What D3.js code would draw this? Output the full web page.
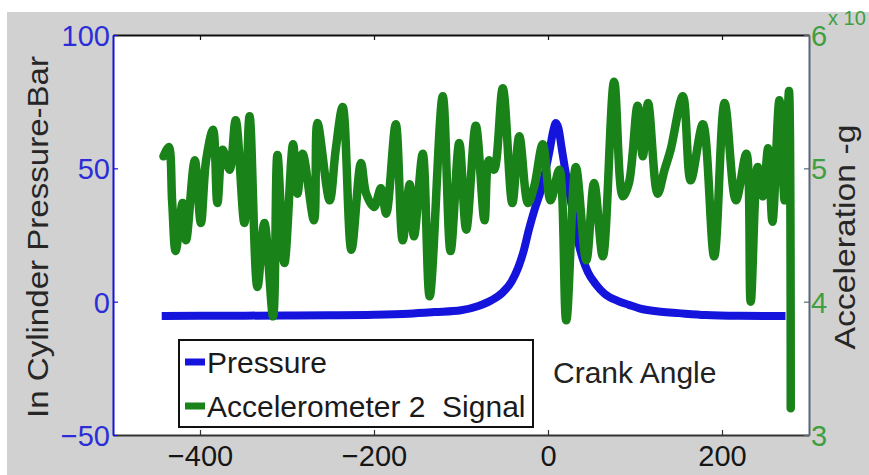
<!DOCTYPE html>
<html>
<head>
<meta charset="utf-8">
<script src="https://cdn.jsdelivr.net/npm/d3@7"></script>
<style>
  html, body { margin: 0; padding: 0; background: #fff; }
  svg { display: block; font-family: "Liberation Sans", Arial, sans-serif; }
</style>
</head>
<body>
<div id="chart"></div>
<script>
/*
* Données
*/

const xTicks = [-400, -200, 0, 200]
const pressureTicks = [-50, 0, 50, 100]
const accelTicks = [3, 4, 5, 6]

// pression dans le cylindre (bar) en fonction de l'angle vilebrequin
const pressureAngle = [-444, -400, -300, -250, -200, -160, -130, -100, -80, -65,
  -52, -42, -34, -28, -22, -15, -8, -3, 2, 6,
  9, 12, 16, 20, 24, 30, 35, 40, 46, 55,
  65, 80, 93, 105, 130, 150, 181, 220, 273]
const pressureBar = [-5.4, -5.3, -5.2, -5.1, -4.9, -4.5, -3.9, -3.2, -1.6, 0.5,
  3.5, 7.5, 13, 19, 27, 35, 42, 49, 57, 64,
  67, 65, 57, 49, 42, 31, 22, 16, 11, 6.5,
  3, 0.3, -1.2, -2.5, -3.8, -4.3, -5.0, -5.3, -5.4]

// signal de l'accéléromètre 2 (axe de droite)
const accelAngle = [-442, -436, -432, -428, -420, -416, -406, -399, -393, -385,
  -380, -374, -366, -359, -349, -343, -334, -326, -316, -311,
  -303, -293, -288, -282, -269, -265, -251, -244, -236, -226,
  -215, -209, -200, -192, -186, -175, -167, -159, -154, -144,
  -136, -121, -112, -102, -94, -83, -73, -68, -62, -52,
  -41, -33, -23, -16, -6, 3, 13, 21, 32, 44,
  53, 63, 76, 86, 93, 103, 109, 115, 126, 134,
  141, 155, 164, 178, 191, 203, 216, 228, 233, 241,
  247, 253, 258, 266, 272, 277, 279]
const accelG = [5.09, 5.16, 4.75, 4.38, 4.74, 4.46, 5.06, 4.59, 5.06, 5.29,
  4.74, 5.14, 4.99, 5.36, 4.59, 5.39, 4.11, 4.59, 3.89, 5.10,
  4.29, 5.18, 4.81, 5.11, 4.61, 5.34, 4.76, 5.14, 5.46, 4.39,
  5.04, 4.81, 4.71, 4.85, 4.66, 5.33, 4.46, 4.88, 4.49, 5.11,
  4.04, 5.54, 4.38, 5.19, 4.54, 5.32, 4.61, 5.06, 4.99, 5.60,
  4.74, 5.24, 4.74, 4.86, 5.18, 4.76, 4.99, 3.86, 5.01, 4.31,
  4.89, 4.34, 5.65, 4.79, 4.89, 5.47, 5.09, 5.49, 4.81, 4.99,
  5.14, 5.54, 4.91, 5.33, 4.34, 5.49, 4.76, 5.11, 4.00, 5.01,
  4.79, 5.15, 4.60, 5.51, 4.76, 5.58, 3.20]

const legendLabels = ['Pressure', 'Accelerometer 2  Signal']

/*
* Mise en page
*/

const WIDTH = 869
const HEIGHT = 475
const LEFT = 113, RIGHT = 809, TOP = 35, BOTTOM = 435
const BLUE = '#1414dc'
const GREEN = '#198219'

const svg = d3.select('#chart').append('svg')
  .attr('width', WIDTH)
  .attr('height', HEIGHT)

// fond gris de la figure + zone blanche des axes
svg.append('rect')
  .attr('x', 7).attr('y', 12)
  .attr('width', WIDTH - 7).attr('height', HEIGHT - 12)
  .attr('fill', '#d1d1d1')
svg.append('rect')
  .attr('x', LEFT).attr('y', TOP)
  .attr('width', RIGHT - LEFT).attr('height', BOTTOM - TOP)
  .attr('fill', '#fff')

/*
* Echelles
*/

const xScale = d3.scaleLinear().domain([-500, 300]).range([LEFT, RIGHT])
const yPressure = d3.scaleLinear().domain([-50, 100]).range([BOTTOM, TOP])
const yAccel = d3.scaleLinear().domain([3, 6]).range([BOTTOM, TOP])

/*
* Courbes
*/

const pressureLine = d3.line()
  .x(i => xScale(pressureAngle[i]))
  .y(i => yPressure(pressureBar[i]))
  .curve(d3.curveMonotoneX)

const accelLine = d3.line()
  .x(i => xScale(accelAngle[i]))
  .y(i => yAccel(accelG[i]))
  .curve(d3.curveCatmullRom.alpha(0.5))

svg.append('path')
  .attr('d', pressureLine(d3.range(pressureAngle.length)))
  .attr('fill', 'none')
  .attr('stroke', BLUE)
  .attr('stroke-width', 8)
  .attr('stroke-linejoin', 'round')

svg.append('path')
  .attr('d', accelLine(d3.range(accelAngle.length)))
  .attr('fill', 'none')
  .attr('stroke', GREEN)
  .attr('stroke-width', 8.5)
  .attr('stroke-linejoin', 'round')
  .attr('stroke-linecap', 'round')

/*
* Axes
*/

const styleAxis = (g, color) => {
  g.select('.domain').attr('stroke', color).attr('stroke-width', 2)
  g.selectAll('.tick line').attr('stroke', color).attr('stroke-width', 1.2)
  g.selectAll('.tick text').attr('font-size', 29).attr('font-family', '"Liberation Sans", Arial, sans-serif')
}

const bottomAxis = svg.append('g')
  .attr('transform', `translate(0, ${BOTTOM})`)
  .call(d3.axisBottom(xScale).tickValues(xTicks).tickSizeInner(-5).tickSizeOuter(0))
styleAxis(bottomAxis, '#333')
bottomAxis.selectAll('.tick text').attr('y', 31).attr('dy', 0).attr('fill', '#151515')

const topAxis = svg.append('g')
  .attr('transform', `translate(0, ${TOP})`)
  .call(d3.axisTop(xScale).tickValues(xTicks).tickSizeInner(-5).tickSizeOuter(0).tickFormat(''))
styleAxis(topAxis, '#111')

const leftAxis = svg.append('g')
  .attr('transform', `translate(${LEFT}, 0)`)
  .call(d3.axisLeft(yPressure).tickValues(pressureTicks).tickSizeInner(-5).tickSizeOuter(0))
styleAxis(leftAxis, BLUE)
leftAxis.selectAll('.tick text').attr('x', -3).attr('dy', '0.36em').attr('fill', '#2d2dd8')

const rightAxis = svg.append('g')
  .attr('transform', `translate(${RIGHT}, 0)`)
  .call(d3.axisRight(yAccel).tickValues(accelTicks).tickFormat(d3.format('d'))
    .tickSizeInner(-5).tickSizeOuter(0))
styleAxis(rightAxis, '#56677a')
rightAxis.selectAll('.tick text').attr('x', 2).attr('dy', '0.36em').attr('fill', '#3f9f3f')

// exposant de l'axe de droite (coupé dans l'original)
svg.append('text')
  .attr('x', 828).attr('y', 25)
  .attr('font-size', 20)
  .attr('fill', '#3f9f3f')
  .text('x 10')

/*
* Titres
*/

svg.append('text')
  .attr('transform', 'translate(48, 237) rotate(-90)')
  .attr('text-anchor', 'middle')
  .attr('font-size', 29)
  .attr('textLength', 362)
  .attr('lengthAdjust', 'spacingAndGlyphs')
  .attr('fill', '#262626')
  .text('In Cylinder Pressure-Bar')

svg.append('text')
  .attr('transform', 'translate(855, 237) rotate(-90)')
  .attr('text-anchor', 'middle')
  .attr('font-size', 29)
  .attr('textLength', 225)
  .attr('lengthAdjust', 'spacingAndGlyphs')
  .attr('fill', '#262626')
  .text('Acceleration -g')

svg.append('text')
  .attr('x', 553).attr('y', 383)
  .attr('font-size', 30)
  .attr('fill', '#222')
  .text('Crank Angle')

/*
* Légende
*/

const legend = svg.append('g')
legend.append('rect')
  .attr('x', 179).attr('y', 340)
  .attr('width', 354).attr('height', 87)
  .attr('fill', '#fff')
  .attr('stroke', '#111')
  .attr('stroke-width', 2)

const legendColors = [BLUE, GREEN]
const legendRow = d3.scaleLinear().domain([0, 1]).range([362, 406])

legend.selectAll('line.key')
  .data(legendLabels)
  .enter()
  .append('line')
  .attr('class', 'key')
  .attr('x1', 185).attr('x2', 205)
  .attr('y1', (d, i) => legendRow(i))
  .attr('y2', (d, i) => legendRow(i))
  .attr('stroke', (d, i) => legendColors[i])
  .attr('stroke-width', 7)

legend.selectAll('text')
  .data(legendLabels)
  .enter()
  .append('text')
  .attr('x', 207)
  .attr('y', (d, i) => legendRow(i) + 11)
  .attr('font-size', 30)
  .attr('fill', '#1a1a1a')
  .style('white-space', 'pre')
  .text(d => d)
</script>
</body>
</html>
